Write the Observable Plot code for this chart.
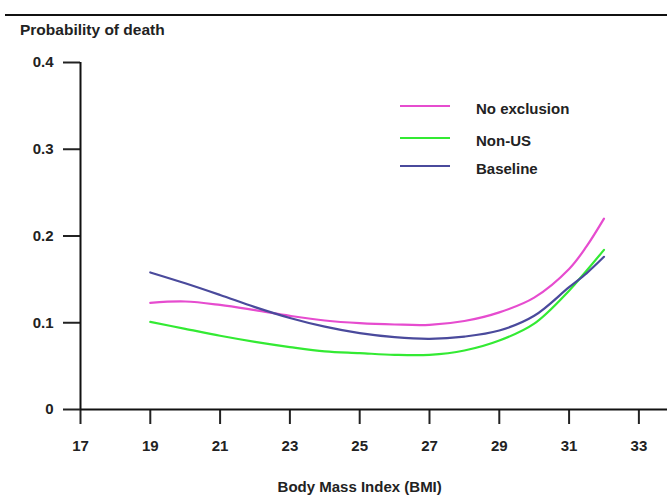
<!DOCTYPE html>
<html>
<head>
<meta charset="utf-8">
<script src="https://cdn.jsdelivr.net/npm/d3@7"></script>
<script src="https://cdn.jsdelivr.net/npm/@observablehq/plot@0.6"></script>
<style>
  html, body { margin: 0; padding: 0; background: #fff; }
  #wrap { position: relative; width: 667px; height: 499px; font-family: "Liberation Sans", Arial, sans-serif; color: #222; }
  #rule { position: absolute; left: 5px; top: 14px; width: 662px; height: 2px; background: #111; }
  #title { position: absolute; left: 20px; top: 21px; font-size: 15.5px; font-weight: bold; line-height: 18px; }
  .leg { position: absolute; left: 400px; font-size: 15px; font-weight: bold; }
  .leg .sw { position: absolute; left: 0; width: 50px; height: 2px; }
  .leg .lb { position: absolute; left: 76px; white-space: nowrap; line-height: 16px; }
  svg { position: absolute; left: 0; top: 0; }
</style>
</head>
<body>
<div id="wrap">
  <div id="rule"></div>
  <div id="title">Probability of death</div>
  <div id="legend"></div>
</div>
<script>
const bmi = [19, 20, 21, 22, 23, 24, 25, 26, 27, 28, 29, 30, 31, 31.5, 32];
const noExclusion = [0.123, 0.1245, 0.1205, 0.1145, 0.108, 0.1026, 0.0995, 0.098, 0.0976, 0.102, 0.112, 0.129, 0.162, 0.188, 0.220];
const nonUS = [0.101, 0.093, 0.085, 0.078, 0.072, 0.067, 0.065, 0.063, 0.063, 0.068, 0.0795, 0.099, 0.137, 0.160, 0.184];
const baseline = [0.158, 0.1455, 0.132, 0.118, 0.1055, 0.0955, 0.088, 0.0834, 0.0815, 0.084, 0.091, 0.108, 0.141, 0.157, 0.176];

const seriesNames = ["No exclusion", "Non-US", "Baseline"];
const seriesColors = ["#e64ccf", "#33ea33", "#4a4a9c"];
const seriesValues = [noExclusion, nonUS, baseline];

const xTicks = [17, 19, 21, 23, 25, 27, 29, 31, 33];
const yTicks = [0, 0.1, 0.2, 0.3, 0.4];
const xTitle = "Body Mass Index (BMI)";

const rows = [];
seriesNames.forEach((name, i) => {
  bmi.forEach((b, j) => rows.push({series: name, bmi: b, p: seriesValues[i][j]}));
});

const chart = Plot.plot({
  width: 667,
  height: 499,
  marginLeft: 80,
  marginRight: 0,
  marginTop: 62,
  marginBottom: 90,
  style: {fontFamily: "Liberation Sans, Arial, sans-serif", fontSize: "15px", fontWeight: "bold", color: "#222", background: "transparent"},
  x: {domain: [17, 33.82]},
  y: {domain: [0, 0.4]},
  color: {domain: seriesNames, range: seriesColors},
  marks: [
    Plot.axisY({ticks: yTicks, tickSize: 17, tickPadding: 10, strokeWidth: 2, label: null, tickFormat: d => d === 0 ? "0" : d3.format(".1f")(d)}),
    Plot.axisX({ticks: xTicks, tickSize: 15, tickPadding: 16, strokeWidth: 2, label: null}),
    Plot.text([xTitle], {x: d3.mean(d3.extent(xTicks)), frameAnchor: "bottom", dy: 82, text: d => d, fontSize: 15, fontWeight: "bold", fill: "#222"}),
    Plot.ruleY([0], {stroke: "#111", strokeWidth: 2}),
    Plot.ruleX([17], {stroke: "#111", strokeWidth: 2}),
    Plot.line(rows, {x: "bmi", y: "p", z: "series", stroke: "series", strokeWidth: 2.2, curve: "catmull-rom"})
  ]
});
document.getElementById("wrap").appendChild(chart);

const legendY = [106, 138, 166];
const legend = document.getElementById("legend");
seriesNames.forEach((name, i) => {
  const item = document.createElement("div");
  item.className = "leg";
  item.style.top = legendY[i] + "px";
  const sw = document.createElement("div");
  sw.className = "sw";
  sw.style.background = seriesColors[i];
  sw.style.top = "-1px";
  const lb = document.createElement("div");
  lb.className = "lb";
  lb.style.top = "-5px";
  lb.textContent = name;
  item.appendChild(sw);
  item.appendChild(lb);
  legend.appendChild(item);
});
</script>
</body>
</html>
